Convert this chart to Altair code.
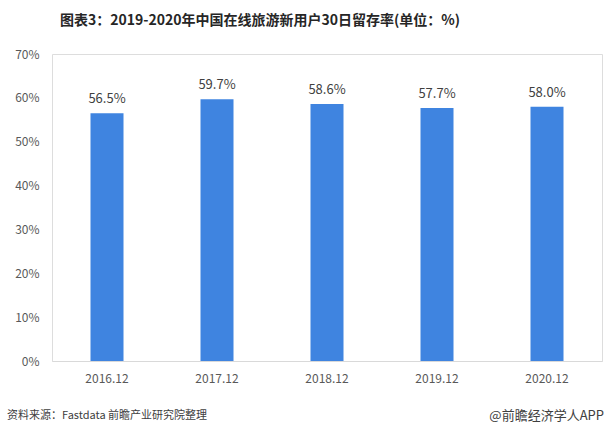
import altair as alt
import pandas as pd

categories = ["2016.12", "2017.12", "2018.12", "2019.12", "2020.12"]
values = [56.5, 59.7, 58.6, 57.7, 58.0]
labels = ["56.5%", "59.7%", "58.6%", "57.7%", "58.0%"]

df = pd.DataFrame({"cat": categories, "val": [v / 100 for v in values], "label": labels})

FONT = "Noto Sans CJK SC"

x = alt.X("cat:N", sort=categories, title=None,
          scale=alt.Scale(paddingInner=0.7, paddingOuter=0.35),
          axis=alt.Axis(labelAngle=0, domainColor="#D9D9D9", ticks=False,
                        labelPadding=12, labelFontSize=12, labelColor="#595959",
                        labelFont=FONT))
y = alt.Y("val:Q", title=None,
          scale=alt.Scale(domain=[0, 0.7], nice=False),
          axis=alt.Axis(values=[0, 0.1, 0.2, 0.3, 0.4, 0.5, 0.6, 0.7], format=".0%",
                        domain=False, ticks=False, grid=False, labelPadding=13,
                        labelFontSize=12, labelColor="#595959", labelFont=FONT))

bars = alt.Chart(df).mark_bar(color="#3F84E0").encode(x=x, y=y)
text = alt.Chart(df).mark_text(dy=-14, fontSize=13, color="#404040", font=FONT).encode(
    x=alt.X("cat:N", sort=categories), y="val:Q", text="label:N")

title = alt.Chart(pd.DataFrame({"t": ["图表3：2019-2020年中国在线旅游新用户30日留存率(单位：%)"]})).mark_text(
    fontSize=14, fontWeight="bold", color="#262626", font=FONT, align="center", baseline="middle"
).encode(x=alt.value(208), y=alt.value(-33), text="t:N")

src = alt.Chart(pd.DataFrame({"t": ["资料来源：Fastdata 前瞻产业研究院整理"]})).mark_text(
    fontSize=11, color="#404040", font=FONT, align="left", baseline="middle"
).encode(x=alt.value(-45), y=alt.value(362), text="t:N")

app = alt.Chart(pd.DataFrame({"t": ["@前瞻经济学人APP"]})).mark_text(
    fontSize=13, color="#404040", font=FONT, align="right", baseline="middle"
).encode(x=alt.value(552), y=alt.value(362), text="t:N")

chart = alt.layer(bars, text, title, src, app).properties(
    width=550, height=307,
    autosize=alt.AutoSizeParams(type="none"),
    padding={"left": 52, "top": 54, "right": 6, "bottom": 77},
).configure_view(stroke=None).configure(background="white")

chart.save("out.html", embed_options={"renderer": "svg", "actions": False})
